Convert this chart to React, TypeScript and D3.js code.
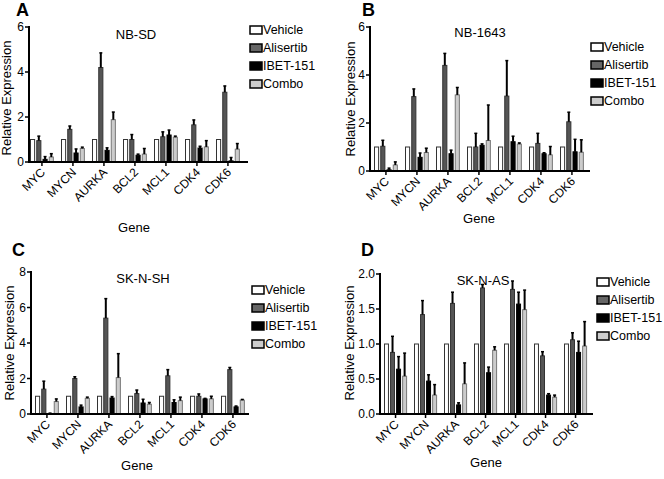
import React, { useEffect, useRef } from 'react'
import * as d3 from 'd3'

const genes = ['MYC', 'MYCN', 'AURKA', 'BCL2', 'MCL1', 'CDK4', 'CDK6']
const treatments = ['Vehicle', 'Alisertib', 'IBET-151', 'Combo']

const vehicle = [1, 1, 1, 1, 1, 1, 1]
const noErr = [0, 0, 0, 0, 0, 0, 0]

// A: NB-SD
const nbsdAlisertib = [0.95, 1.45, 4.2, 1.0, 1.12, 1.65, 3.1]
const nbsdAlisertibErr = [0.2, 0.15, 0.65, 0.22, 0.22, 0.22, 0.28]
const nbsdIbet = [0.12, 0.4, 0.52, 0.3, 1.2, 0.62, 0.05]
const nbsdIbetErr = [0.12, 0.18, 0.11, 0.05, 0.22, 0.08, 0.15]
const nbsdCombo = [0.22, 0.6, 1.88, 0.35, 1.1, 0.67, 0.57]
const nbsdComboErr = [0.15, 0.06, 0.34, 0.25, 0.05, 0.28, 0.25]

// B: NB-1643
const nb1643Alisertib = [1.03, 3.1, 4.4, 1.0, 3.12, 1.15, 2.05]
const nb1643AlisertibErr = [0.25, 0.32, 0.5, 0.57, 1.48, 0.42, 0.4]
const nb1643Ibet = [0.05, 0.57, 0.72, 1.07, 1.22, 0.72, 0.8]
const nb1643IbetErr = [0.07, 0.18, 0.15, 0.06, 0.23, 0.04, 0.52]
const nb1643Combo = [0.25, 0.77, 3.17, 1.27, 1.12, 0.67, 0.78]
const nb1643ComboErr = [0.13, 0.18, 0.31, 1.48, 0.05, 0.35, 0.52]

// C: SK-N-SH
const sknshAlisertib = [1.4, 2.0, 5.4, 1.15, 2.15, 1.0, 2.5]
const sknshAlisertibErr = [0.45, 0.1, 1.1, 0.2, 0.35, 0.13, 0.12]
const sknshIbet = [0.03, 0.4, 0.9, 0.62, 0.65, 0.85, 0.4]
const sknshIbetErr = [0.02, 0.1, 0.08, 0.21, 0.15, 0.03, 0.05]
const sknshCombo = [0.7, 0.88, 2.05, 0.55, 0.75, 0.85, 0.78]
const sknshComboErr = [0.15, 0.07, 1.35, 0.1, 0.2, 0.15, 0.04]

// D: SK-N-AS
const sknasAlisertib = [0.88, 1.42, 1.58, 1.8, 1.78, 0.83, 1.06]
const sknasAlisertibErr = [0.23, 0.2, 0.16, 0.05, 0.12, 0.06, 0.1]
const sknasIbet = [0.64, 0.47, 0.13, 0.59, 1.57, 0.27, 0.88]
const sknasIbetErr = [0.18, 0.09, 0.03, 0.08, 0.17, 0.02, 0.16]
const sknasCombo = [0.54, 0.27, 0.43, 0.91, 1.49, 0.24, 0.97]
const sknasComboErr = [0.33, 0.15, 0.3, 0.05, 0.28, 0.03, 0.35]

const ticks6 = [0, 2, 4, 6]
const ticks8 = [0, 2, 4, 6, 8]
const ticks2 = [0, 0.5, 1, 1.5, 2]

const fills = ['#ffffff', '#555555', '#000000', '#cccccc']
const strokes = ['#333333', '#333333', '#000000', '#777777']
const legendFills = ['#ffffff', '#666666', '#000000', '#cccccc']

const panels = [
  {
    letter: 'A', title: 'NB-SD', ymax: 6, ticks: ticks6, fmt: d3.format('d'),
    means: [vehicle, nbsdAlisertib, nbsdIbet, nbsdCombo],
    errs: [noErr, nbsdAlisertibErr, nbsdIbetErr, nbsdComboErr],
    x0: 29, start: 30, step: 31, axisEnd: 248, yTop: 27, yBottom: 162,
    letterPos: [16, 16], titlePos: [136, 39], genePos: [134, 232], ylabPos: [11, 98], legendPos: [250, 30],
  },
  {
    letter: 'B', title: 'NB-1643', ymax: 6, ticks: ticks6, fmt: d3.format('d'),
    means: [vehicle, nb1643Alisertib, nb1643Ibet, nb1643Combo],
    errs: [noErr, nb1643AlisertibErr, nb1643IbetErr, nb1643ComboErr],
    x0: 370, start: 374, step: 31, axisEnd: 590, yTop: 27, yBottom: 171,
    letterPos: [362, 16], titlePos: [480, 37], genePos: [479, 223], ylabPos: [355, 99], legendPos: [591, 47],
  },
  {
    letter: 'C', title: 'SK-N-SH', ymax: 8, ticks: ticks8, fmt: d3.format('d'),
    means: [vehicle, sknshAlisertib, sknshIbet, sknshCombo],
    errs: [noErr, sknshAlisertibErr, sknshIbetErr, sknshComboErr],
    x0: 31, start: 35, step: 31, axisEnd: 249, yTop: 272, yBottom: 414,
    letterPos: [12, 256], titlePos: [143, 283], genePos: [137, 470], ylabPos: [14, 343], legendPos: [252, 290],
  },
  {
    letter: 'D', title: 'SK-N-AS', ymax: 2, ticks: ticks2, fmt: d3.format('.1f'),
    means: [vehicle, sknasAlisertib, sknasIbet, sknasCombo],
    errs: [noErr, sknasAlisertibErr, sknasIbetErr, sknasComboErr],
    x0: 380, start: 384, step: 30, axisEnd: 593, yTop: 274, yBottom: 414,
    letterPos: [361, 256], titlePos: [483, 285], genePos: [486, 467], ylabPos: [354, 343], legendPos: [597, 282],
  },
]

const font = 'Liberation Sans, Arial, sans-serif'

const App = () => {
  const ref = useRef<SVGSVGElement>(null)

  useEffect(() => {
    const svg = d3.select(ref.current)
    svg.selectAll('*').remove()

    svg.append('rect').attr('width', 664).attr('height', 479).attr('fill', '#fff')

    panels.forEach((p) => {
      const g = svg.append('g').style('font-family', font)

      const pi = 0.23
      const x = d3
        .scaleBand()
        .domain(genes)
        .range([p.start, p.start + p.step * (genes.length - pi)])
        .paddingInner(pi)
        .paddingOuter(0)
      const xs = d3.scaleBand().domain(treatments).range([0, x.bandwidth()]).paddingInner(0.18)
      const y = d3.scaleLinear().domain([0, p.ymax]).range([p.yBottom, p.yTop])

      // bars
      treatments.forEach((t, ti) => {
        genes.forEach((gene, gi) => {
          const v = p.means[ti][gi]
          const bx = x(gene)! + xs(t)!
          g.append('rect')
            .attr('x', bx + 0.5)
            .attr('y', y(v))
            .attr('width', xs.bandwidth() - 1)
            .attr('height', p.yBottom - y(v))
            .attr('fill', fills[ti])
            .attr('stroke', strokes[ti])
            .attr('stroke-width', 1)
          const e = p.errs[ti][gi]
          if (e > 0) {
            const cx = bx + xs.bandwidth() / 2
            g.append('line')
              .attr('x1', cx).attr('x2', cx)
              .attr('y1', y(v)).attr('y2', y(v + e))
              .attr('stroke', '#000').attr('stroke-width', 2)
            g.append('line')
              .attr('x1', cx - 1.5).attr('x2', cx + 1.5)
              .attr('y1', y(v + e)).attr('y2', y(v + e))
              .attr('stroke', '#000').attr('stroke-width', 1.5)
          }
        })
      })

      // y axis
      g.append('line')
        .attr('x1', p.x0).attr('x2', p.x0)
        .attr('y1', p.yTop - 1).attr('y2', p.yBottom + 1)
        .attr('stroke', '#000').attr('stroke-width', 2)
      p.ticks.forEach((t) => {
        g.append('line')
          .attr('x1', p.x0 - 4).attr('x2', p.x0)
          .attr('y1', y(t)).attr('y2', y(t))
          .attr('stroke', '#000').attr('stroke-width', 1.5)
        g.append('text')
          .attr('x', p.x0 - 5)
          .attr('y', y(t))
          .attr('dy', '0.35em')
          .attr('text-anchor', 'end')
          .attr('font-size', 12)
          .text(p.fmt(t))
      })

      // x axis
      g.append('line')
        .attr('x1', p.x0 - 1).attr('x2', p.axisEnd)
        .attr('y1', p.yBottom).attr('y2', p.yBottom)
        .attr('stroke', '#000').attr('stroke-width', 2)
      genes.forEach((gene) => {
        const cx = x(gene)! + x.bandwidth() / 2
        g.append('line')
          .attr('x1', cx).attr('x2', cx)
          .attr('y1', p.yBottom).attr('y2', p.yBottom + 4)
          .attr('stroke', '#000').attr('stroke-width', 1.5)
        g.append('text')
          .attr('transform', `translate(${cx + 4},${p.yBottom + 11}) rotate(-45)`)
          .attr('text-anchor', 'end')
          .attr('font-size', 12)
          .text(gene)
      })

      // labels
      g.append('text')
        .attr('x', p.letterPos[0]).attr('y', p.letterPos[1])
        .attr('font-size', 18).attr('font-weight', 'bold')
        .text(p.letter)
      g.append('text')
        .attr('x', p.titlePos[0]).attr('y', p.titlePos[1])
        .attr('text-anchor', 'middle').attr('font-size', 13)
        .text(p.title)
      g.append('text')
        .attr('x', p.genePos[0]).attr('y', p.genePos[1])
        .attr('text-anchor', 'middle').attr('font-size', 13)
        .text('Gene')
      g.append('text')
        .attr('transform', `translate(${p.ylabPos[0]},${p.ylabPos[1]}) rotate(-90)`)
        .attr('text-anchor', 'middle').attr('font-size', 13)
        .text('Relative Expression')

      // legend
      treatments.forEach((t, ti) => {
        const ly = p.legendPos[1] + ti * 18
        g.append('rect')
          .attr('x', p.legendPos[0]).attr('y', ly - 4)
          .attr('width', 12).attr('height', 8)
          .attr('fill', legendFills[ti])
          .attr('stroke', '#000').attr('stroke-width', 1.5)
        g.append('text')
          .attr('x', p.legendPos[0] + 13).attr('y', ly)
          .attr('dy', '0.35em').attr('font-size', 12.5)
          .text(t)
      })
    })
  }, [])

  return (
    <svg
      ref={ref}
      width={664}
      height={479}
      style={{ position: 'absolute', left: 0, top: 0, display: 'block' }}
    />
  )
}

export default App
